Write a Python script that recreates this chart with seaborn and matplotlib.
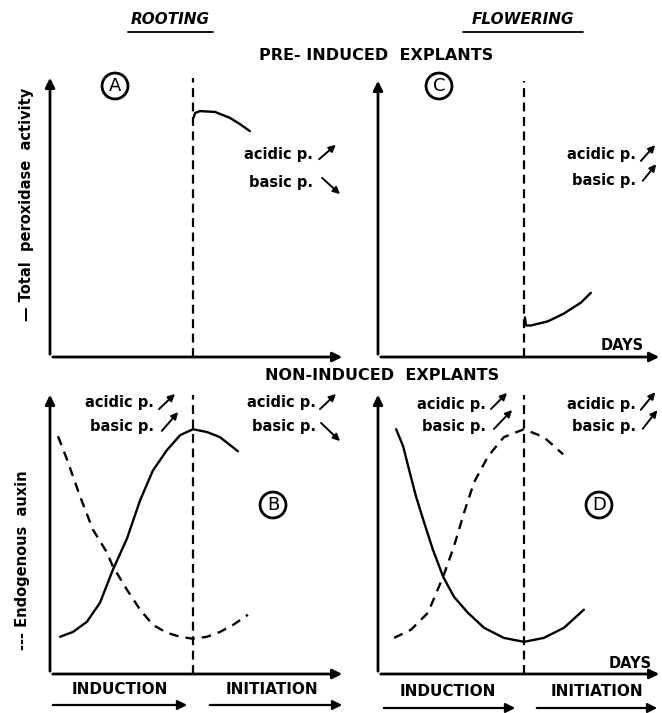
import numpy as np
import pandas as pd
import matplotlib
matplotlib.use("Agg")
import matplotlib.pyplot as plt
from matplotlib.lines import Line2D
import seaborn as sns

sns.set_style("white")
plt.rcParams['font.family'] = ['DejaVu Sans']
plt.rcParams['text.color'] = 'black'

W, H = 662, 713

# Curve data (days, relative level)
a_days = [5.03, 5.07, 5.24, 5.77, 6.29, 6.64, 6.99]
a_perox = [8.50, 8.65, 8.72, 8.69, 8.48, 8.26, 8.01]

c_days = [5.03, 5.07, 5.24, 5.82, 6.37, 6.95, 7.29]
c_perox = [1.42, 1.13, 1.13, 1.28, 1.56, 1.95, 2.30]

b_days_perox = [0.35, 0.80, 1.29, 1.75, 2.20, 2.69, 3.15, 3.60, 4.09, 4.55, 5.00, 5.49, 5.94, 6.57]
b_perox = [1.32, 1.49, 1.85, 2.53, 3.70, 4.80, 6.16, 7.22, 7.94, 8.47, 8.68, 8.58, 8.40, 7.90]
b_days_auxin = [0.28, 0.59, 1.05, 1.50, 1.99, 2.20, 2.69, 3.15, 3.60, 4.09, 4.55, 5.00, 5.49, 5.94, 6.40, 6.92]
b_auxin = [8.43, 7.62, 6.30, 5.12, 4.31, 3.81, 2.99, 2.28, 1.74, 1.46, 1.32, 1.25, 1.32, 1.49, 1.74, 2.10]

d_days_perox = [0.62, 0.86, 1.06, 1.30, 1.58, 1.88, 2.23, 2.60, 3.08, 3.63, 4.31, 5.00, 5.68, 6.37, 7.05]
d_perox = [8.68, 8.08, 7.26, 6.30, 5.37, 4.41, 3.45, 2.74, 2.17, 1.64, 1.28, 1.14, 1.28, 1.64, 2.28]
d_days_auxin = [0.55, 1.13, 1.71, 2.23, 2.60, 2.95, 3.29, 3.77, 4.31, 5.00, 5.68, 6.34]
d_auxin = [1.28, 1.57, 2.17, 3.45, 4.52, 5.73, 6.80, 7.72, 8.40, 8.68, 8.40, 7.79]

fig = plt.figure(figsize=(W / 100, H / 100), dpi=100)


def add_panel(x0, x1, ytop, ybot, px_per_day):
    ax = fig.add_axes([x0 / W, 1 - ybot / H, (x1 - x0) / W, (ybot - ytop) / H])
    ax.set_xlim(0, (x1 - x0) / px_per_day)
    ax.set_ylim(0, 10)
    for s in ax.spines.values():
        s.set_visible(False)
    ax.set_xticks([])
    ax.set_yticks([])
    ax.patch.set_alpha(0)
    ap = dict(arrowstyle='-|>', color='black', lw=2, mutation_scale=14)
    ax.annotate("", xy=(0, 1), xytext=(0, 0), xycoords='axes fraction', arrowprops=ap)
    ax.annotate("", xy=(1, 0), xytext=(0, 0), xycoords='axes fraction', arrowprops=ap)
    ax.axvline(5, ymin=0, ymax=0.99, color='black', ls=(0, (4, 2.5)), lw=1.6)
    return ax


def curve(ax, xs, ys, dashed=False):
    sns.lineplot(x=xs, y=ys, ax=ax, color='black', lw=1.7, sort=False,
                 linestyle=(0, (4, 3)) if dashed else '-')
    ax.set_xlabel("")
    ax.set_ylabel("")


axA = add_panel(50, 345, 75, 357, 28.6)
axC = add_panel(378, 662, 78, 357, 29.2)
axB = add_panel(50, 345, 392, 674, 28.6)
axD = add_panel(378, 662, 392, 674, 29.2)

curve(axA, a_days, a_perox)
curve(axC, c_days, c_perox)
curve(axB, b_days_perox, b_perox)
curve(axB, b_days_auxin, b_auxin, dashed=True)
curve(axD, d_days_perox, d_perox)
curve(axD, d_days_auxin, d_auxin, dashed=True)


def txt(x, y, s, **kw):
    kw.setdefault('fontweight', 'bold')
    kw.setdefault('va', 'center')
    fig.text(x / W, 1 - y / H, s, **kw)


def arr(x0, y0, x1, y1, ms=10, lw=1.4):
    fig.add_artist(matplotlib.patches.FancyArrowPatch(
        (x0 / W, 1 - y0 / H), (x1 / W, 1 - y1 / H), transform=fig.transFigure,
        arrowstyle='-|>', mutation_scale=ms, color='black', lw=lw))


def uline(x0, x1, y):
    fig.add_artist(Line2D([x0 / W, x1 / W], [1 - y / H, 1 - y / H],
                          transform=fig.transFigure, color='black', lw=1.3))


# headers
txt(170, 20, "ROOTING", ha='center', fontsize=11, style='italic')
uline(128, 213, 32)
txt(523, 20, "FLOWERING", ha='center', fontsize=11, style='italic')
uline(463, 583, 32)
txt(376, 55, "PRE- INDUCED  EXPLANTS", ha='center', fontsize=11.5)
txt(382, 376, "NON-INDUCED  EXPLANTS", ha='center', fontsize=11.5)

# circled letters
circ = dict(boxstyle='circle,pad=0.22', fc='white', ec='black', lw=2)
for x, y, s in [(115, 86, "A"), (439, 86, "C"), (273, 505, "B"), (599, 505, "D")]:
    txt(x, y, s, ha='center', fontsize=13, fontweight='normal', bbox=circ)

# y labels
txt(27, 204, "— Total  peroxidase  activity", ha='center', rotation=90, fontsize=10.5)
txt(23, 560, "--- Endogenous  auxin", ha='center', rotation=90, fontsize=10.5)

# acidic / basic annotations
labels = [
    # (right x, acidic y, basic y, acidic arrow, basic arrow)
    (313, 155, 182, (317, 161, 338, 143), (320, 176, 342, 196)),
    (636, 155, 181, (639, 163, 657, 143), (641, 183, 658, 162)),
    (154, 403, 427, (157, 411, 177, 392), (160, 433, 180, 410)),
    (316, 403, 427, (318, 411, 338, 392), (319, 421, 342, 443)),
    (486, 404, 426, (489, 411, 509, 391), (492, 431, 514, 408)),
    (636, 404, 426, (639, 412, 657, 390), (641, 431, 659, 408)),
]
for rx, ya, yb, aa, ab in labels:
    txt(rx, ya, "acidic p.", ha='right', fontsize=10.5)
    txt(rx, yb, "basic p.", ha='right', fontsize=10.5)
    arr(*aa)
    arr(*ab)

# DAYS
txt(622, 345, "DAYS", ha='center', fontsize=10.5)
txt(630, 663, "DAYS", ha='center', fontsize=10.5)

# phase labels and arrows
txt(120, 690, "INDUCTION", ha='center', fontsize=11)
txt(272, 690, "INITIATION", ha='center', fontsize=11)
arr(50, 705, 190, 705, ms=14, lw=1.6)
arr(207, 705, 345, 705, ms=14, lw=1.6)
txt(448, 692, "INDUCTION", ha='center', fontsize=11)
txt(597, 692, "INITIATION", ha='center', fontsize=11)
arr(381, 708, 518, 708, ms=14, lw=1.6)
arr(534, 708, 660, 708, ms=14, lw=1.6)

fig.savefig("out.png", dpi=100)
